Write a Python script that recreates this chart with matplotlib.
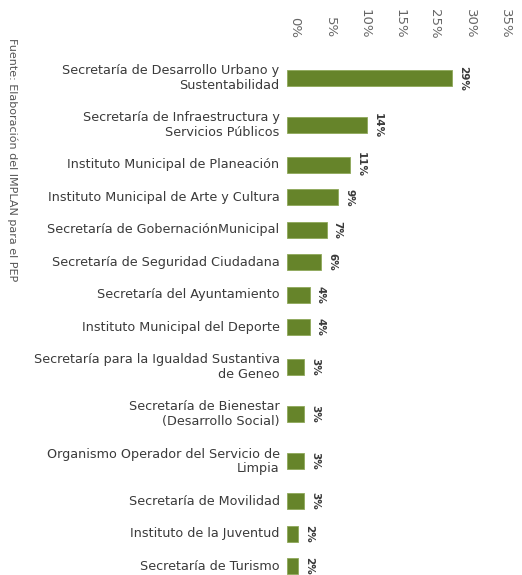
import matplotlib
matplotlib.use("Agg")
import matplotlib.pyplot as plt
import numpy as np

# data
labels = [
    "Secretaría de Desarrollo Urbano y\nSustentabilidad",
    "Secretaría de Infraestructura y\nServicios Públicos",
    "Instituto Municipal de Planeación",
    "Instituto Municipal de Arte y Cultura",
    "Secretaría de GobernaciónMunicipal",
    "Secretaría de Seguridad Ciudadana",
    "Secretaría del Ayuntamiento",
    "Instituto Municipal del Deporte",
    "Secretaría para la Igualdad Sustantiva\nde Geneo",
    "Secretaría de Bienestar\n(Desarrollo Social)",
    "Organismo Operador del Servicio de\nLimpia",
    "Secretaría de Movilidad",
    "Instituto de la Juventud",
    "Secretaría de Turismo",
]
values = [29, 14, 11, 9, 7, 6, 4, 4, 3, 3, 3, 3, 2, 2]
tick_labels = ["0%", "5%", "10%", "15%", "25%", "30%", "35%"]
source = "Fuente: Elaboración del IMPLAN para el PEP"

bar_color = "#66842a"
text_color = "#3a3a3a"

W, H = 522, 575
fig = plt.figure(figsize=(W / 100, H / 100), dpi=100)

# vertical layout: two-line labels take more room
nlines = [lab.count("\n") + 1 for lab in labels]
pos = [0.0]
for a, b in zip(nlines[:-1], nlines[1:]):
    pos.append(pos[-1] + 33 + 7.5 * ((a - 1) + (b - 1)))
pos = np.array(pos)

# axes in pixel terms
ax_left, ax_right, ax_top, ax_bot = 255, 515, 55, 575
first_px, last_px = 78, 566
k = (pos[-1] - pos[0]) / (last_px - first_px)
ax = fig.add_axes([ax_left / W, 1 - ax_bot / H,
                   (ax_right - ax_left) / W, (ax_bot - ax_top) / H])

px_per_pct = 5.7
zero_px = 287
ax.set_xlim((ax_left - zero_px) / px_per_pct, (ax_right - zero_px) / px_per_pct)
ax.set_ylim((ax_bot - first_px) * k, (ax_top - first_px) * k)

ax.barh(pos, values, height=16 * k, color=bar_color, edgecolor="#8fa85a", linewidth=0.6)

for y, v in zip(pos, values):
    ax.text(v + 1.9, y, f"{v}%", rotation=-90, ha="center", va="center",
            fontsize=7.5, fontweight="bold", color=text_color)

for y, lab in zip(pos, labels):
    ax.text(-1.3, y, lab, ha="right", va="center", fontsize=9.2,
            color=text_color, linespacing=1.15)

ax.set_yticks([])
ax.set_xticks([])
for s in ax.spines.values():
    s.set_visible(False)

# the percent scale on top doesn't line up with the bars in the source
ax2 = ax.twiny()
tick_zero_px, tick_px = 295, 35.0 / 5
ax2.set_xlim((ax_left - tick_zero_px) / tick_px, (ax_right - tick_zero_px) / tick_px)
ax2.set_xticks(np.arange(len(tick_labels)) * 5)
ax2.set_xticklabels(tick_labels, rotation=-90, fontsize=9.5, color="#666666")
ax2.tick_params(axis="x", length=0, pad=12)
for s in ax2.spines.values():
    s.set_visible(False)

fig.text(12 / W, 1 - 160 / H, source, rotation=-90, ha="center", va="center",
         fontsize=8, color="#555555")

fig.savefig("out.png", dpi=100)
